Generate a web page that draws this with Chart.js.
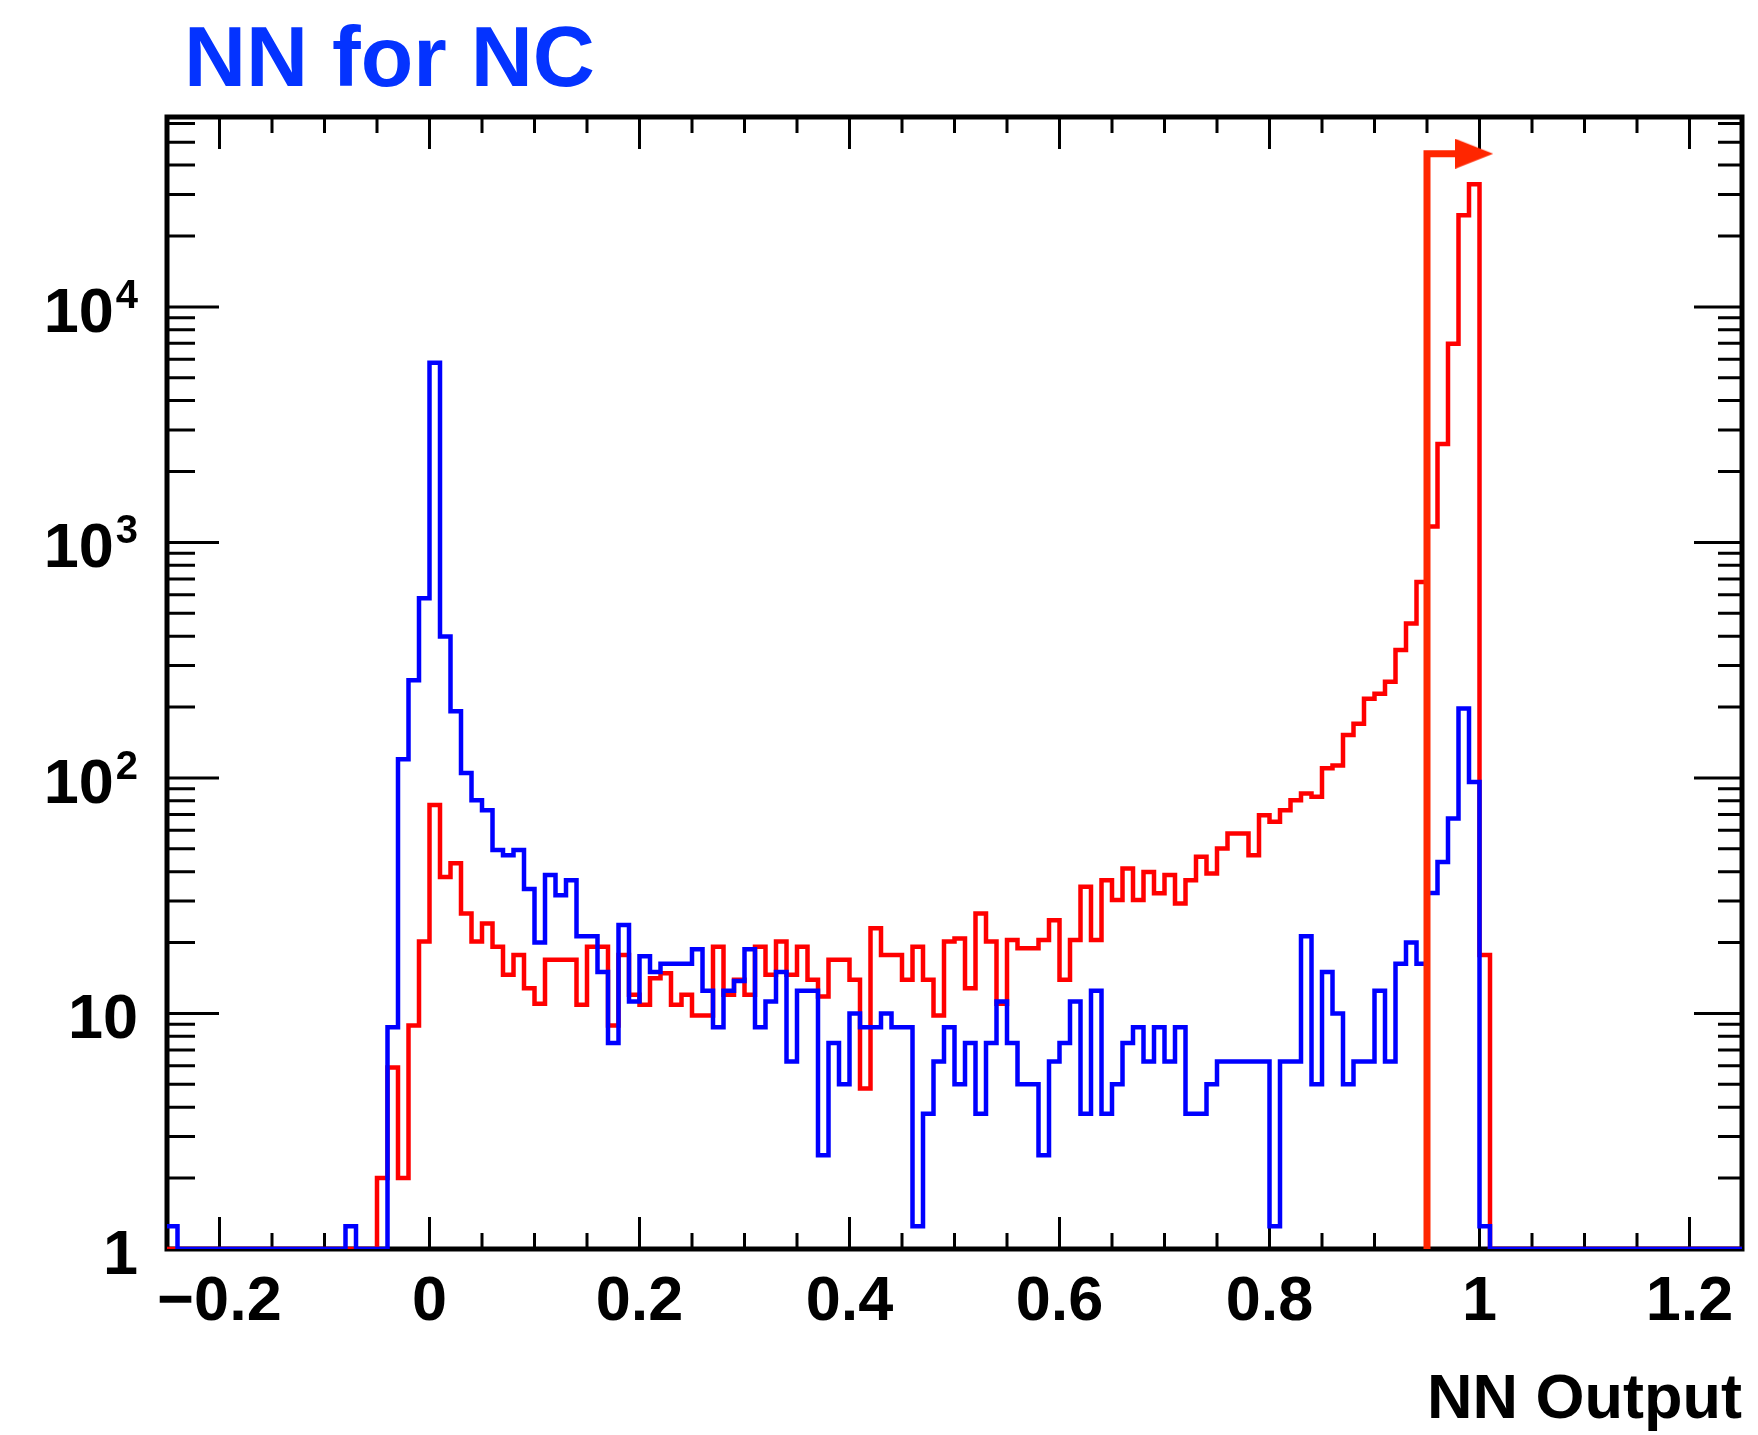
<!DOCTYPE html>
<html>
<head>
<meta charset="utf-8">
<script src="https://cdn.jsdelivr.net/npm/chart.js@4.4.1/dist/chart.umd.min.js"></script>
<style>
  html, body { margin: 0; padding: 0; background: #fff; }
  #wrap { width: 1758px; height: 1435px; }
</style>
</head>
<body>
<div id="wrap"><canvas id="chart"></canvas></div>
<script>
var binLow = -0.25;
var binWidth = 0.01;

// NC events (blue), entries per 0.01 bin starting at -0.25
var ncCounts = [
  1.25, 0, 0, 0, 0, 0, 0, 0, 0, 0,
  0, 0, 0, 0, 0, 0, 0, 1.25, 0, 0,
  0, 8.75, 120, 260, 580, 5790, 399, 192, 105, 80.5,
  73, 49.4, 47, 49.4, 33.75, 20, 38.75, 31.8, 36.8, 21.25,
  21.25, 15, 7.5, 23.75, 11.25, 17.5, 15, 16.25, 16.25, 16.25,
  18.75, 12.5, 8.75, 12.5, 13.75, 18.75, 8.75, 11.25, 15, 6.25,
  12.5, 12.5, 2.5, 7.5, 5, 10, 8.75, 8.75, 10, 8.75,
  8.75, 1.25, 3.75, 6.25, 8.75, 5, 7.5, 3.75, 7.5, 11.25,
  7.5, 5, 5, 2.5, 6.25, 7.5, 11.25, 3.75, 12.5, 3.75,
  5, 7.5, 8.75, 6.25, 8.75, 6.25, 8.75, 3.75, 3.75, 5,
  6.25, 6.25, 6.25, 6.25, 6.25, 1.25, 6.25, 6.25, 21.25, 5,
  15, 10, 5, 6.25, 6.25, 12.5, 6.25, 16.25, 20, 16.25,
  32.5, 44, 67.3, 197, 96, 1.25, 0, 0, 0, 0,
  0, 0, 0, 0, 0, 0, 0, 0, 0, 0,
  0, 0, 0, 0, 0, 0, 0, 0, 0, 0
];

// signal events (red), same binning
var sigCounts = [
  0, 0, 0, 0, 0, 0, 0, 0, 0, 0,
  0, 0, 0, 0, 0, 0, 0, 0, 0, 0,
  2.0, 5.9, 2.0, 8.9, 20.2, 76.7, 38.0, 43.4, 26.6, 20.2,
  24.1, 19.2, 14.6, 17.7, 12.8, 11.0, 16.9, 16.9, 16.9, 10.9,
  19.2, 19.2, 8.9, 17.7, 12.0, 10.9, 14.1, 14.8, 10.9, 12.0,
  9.8, 9.8, 19.2, 12.0, 13.9, 12.0, 19.2, 14.6, 20.2, 14.6,
  19.2, 13.9, 11.8, 16.9, 16.9, 13.9, 4.8, 23.0, 17.7, 17.7,
  13.9, 19.2, 13.9, 9.8, 20.2, 20.8, 12.8, 26.6, 20.2, 11.0,
  20.5, 18.9, 18.9, 20.5, 24.9, 13.9, 20.5, 34.5, 20.5, 36.8,
  30.3, 41.3, 30.3, 39.9, 32.4, 38.7, 29.3, 36.8, 46.3, 39.3,
  50.2, 58.1, 58.1, 47.0, 69.5, 65.1, 73.0, 80.5, 85.9, 83.2,
  110, 113, 152, 170, 217, 228, 256, 349, 453, 679,
  1168, 2618, 6980, 24500, 33200, 17.7, 0, 0, 0, 0,
  0, 0, 0, 0, 0, 0, 0, 0, 0, 0,
  0, 0, 0, 0, 0, 0, 0, 0, 0, 0
];

var xMajorTicks = [-0.2, 0, 0.2, 0.4, 0.6, 0.8, 1, 1.2];
var xTickText = ["\u22120.2", "0", "0.2", "0.4", "0.6", "0.8", "1", "1.2"];
var yMajorTicks = [1, 10, 100, 1000, 10000];
var yTickBase = ["1", "10", "10", "10", "10"];
var yTickExp = ["", "", "2", "3", "4"];

// selection cut and the arrow pointing to the kept side
var cutValue = 0.95;
var cutArrowY = 44700;
var cutArrowHead = 0.995;

var xMin = -0.25, xMax = 1.25;
var yMin = 1, yMax = 64000;

var font = "'Liberation Sans', Arial, Helvetica, sans-serif";
var cutColor = "#ff2600";

// one point per bin edge; empty bins sit on the bottom of the log axis
function stepPoints(counts) {
  var pts = counts.map(function (c, i) {
    return { x: binLow + i * binWidth, y: Math.max(c, yMin) };
  });
  pts.push({ x: binLow + counts.length * binWidth, y: Math.max(counts[counts.length - 1], yMin) });
  return pts;
}

function majorIndex(list, v) {
  for (var i = 0; i < list.length; i++) {
    if (Math.abs(list[i] - v) < 1e-9 * Math.max(1, Math.abs(v))) return i;
  }
  return -1;
}

// right-pointing arrowhead used as the point style at the end of the cut arrow
function arrowHead(w, h, color) {
  var c = document.createElement("canvas");
  c.width = w;
  c.height = h;
  var g = c.getContext("2d");
  g.fillStyle = color;
  g.beginPath();
  g.moveTo(0, 0);
  g.lineTo(w, h / 2);
  g.lineTo(0, h);
  g.closePath();
  g.fill();
  return c;
}

// frame with inward ticks on all four sides, power-of-ten labels, title
var frameTicks = {
  id: "frameTicks",
  beforeDatasetsDraw: function (chart) {
    var ctx = chart.ctx;
    var a = chart.chartArea;
    var xs = chart.scales.x, ys = chart.scales.y;
    ctx.save();
    ctx.strokeStyle = "#000";
    ctx.lineWidth = 3;
    ctx.beginPath();
    xs.ticks.forEach(function (t) {
      var px = xs.getPixelForValue(t.value);
      var len = majorIndex(xMajorTicks, t.value) >= 0 ? 32 : 16;
      ctx.moveTo(px, a.bottom);
      ctx.lineTo(px, a.bottom - len);
      ctx.moveTo(px, a.top);
      ctx.lineTo(px, a.top + len);
    });
    ys.ticks.forEach(function (t) {
      var py = ys.getPixelForValue(t.value);
      var major = majorIndex(yMajorTicks, t.value) >= 0;
      ctx.moveTo(a.left, py);
      ctx.lineTo(a.left + (major ? 52 : 28), py);
      ctx.moveTo(a.right, py);
      ctx.lineTo(a.right - (major ? 48 : 24), py);
    });
    ctx.stroke();
    ctx.lineWidth = 5;
    ctx.strokeRect(a.left, a.top, a.right - a.left, a.bottom - a.top);

    // y labels: base number with a raised exponent, right-aligned left of the frame
    ctx.fillStyle = "#000";
    ctx.textBaseline = "alphabetic";
    ctx.textAlign = "left";
    var baseFont = "bold 63px " + font;
    var expFont = "bold 40px " + font;
    var rightEdge = a.left - 29;
    yMajorTicks.forEach(function (v, i) {
      var py = ys.getPixelForValue(v);
      ctx.font = expFont;
      var we = yTickExp[i] ? ctx.measureText(yTickExp[i]).width + 2 : 0;
      ctx.font = baseFont;
      var wb = ctx.measureText(yTickBase[i]).width;
      var x0 = rightEdge - we - wb;
      ctx.fillText(yTickBase[i], x0, py + 25);
      if (yTickExp[i]) {
        ctx.font = expFont;
        ctx.fillText(yTickExp[i], x0 + wb + 2, py + 1);
      }
    });
    ctx.restore();
  },
  afterDraw: function (chart) {
    var ctx = chart.ctx;
    ctx.save();
    ctx.fillStyle = "#0433ff";
    ctx.font = "bold 86px " + font;
    ctx.textAlign = "left";
    ctx.textBaseline = "alphabetic";
    ctx.fillText("NN for NC", 184, 86);
    ctx.restore();
  }
};

new Chart(document.getElementById("chart"), {
  type: "line",
  data: {
    datasets: [
      {
        label: "cut",
        data: [
          { x: cutValue, y: yMin },
          { x: cutValue, y: cutArrowY },
          { x: cutArrowHead, y: cutArrowY }
        ],
        borderColor: cutColor,
        backgroundColor: cutColor,
        borderWidth: 7,
        borderJoinStyle: "miter",
        pointRadius: [0, 0, 18],
        pointStyle: [false, false, arrowHead(38, 30, cutColor)],
        order: 0
      },
      {
        label: "NC",
        data: stepPoints(ncCounts),
        stepped: "before",
        borderColor: "#0000ff",
        borderWidth: 4.5,
        pointRadius: 0,
        fill: false,
        order: 1
      },
      {
        label: "signal",
        data: stepPoints(sigCounts),
        stepped: "before",
        borderColor: "#ff0000",
        borderWidth: 4.5,
        pointRadius: 0,
        fill: false,
        order: 2
      }
    ]
  },
  options: {
    responsive: true,
    maintainAspectRatio: false,
    animation: false,
    devicePixelRatio: 1,
    layout: { autoPadding: false, padding: { left: 0, right: 15, top: 117, bottom: 0 } },
    plugins: {
      legend: { display: false },
      tooltip: { enabled: false },
      title: { display: false }
    },
    scales: {
      x: {
        type: "linear",
        min: xMin,
        max: xMax,
        grid: { display: false, drawTicks: false },
        border: { display: false },
        afterBuildTicks: function (scale) {
          var ticks = [];
          for (var k = -5; k <= 25; k++) ticks.push({ value: k * 0.05 });
          scale.ticks = ticks;
        },
        afterFit: function (scale) { scale.height = 186; },
        ticks: {
          autoSkip: false,
          maxRotation: 0,
          minRotation: 0,
          padding: 16,
          color: "#000",
          font: { family: font, size: 63, weight: "bold" },
          callback: function (v) {
            var i = majorIndex(xMajorTicks, v);
            return i < 0 ? "" : xTickText[i];
          }
        },
        title: {
          display: true,
          text: "NN Output",
          align: "end",
          color: "#000",
          font: { family: font, size: 63, weight: "bold", lineHeight: 1 },
          padding: { top: 0, bottom: 3 }
        }
      },
      y: {
        type: "logarithmic",
        min: yMin,
        max: yMax,
        grid: { display: false, drawTicks: false },
        border: { display: false },
        afterBuildTicks: function (scale) {
          var ticks = [];
          for (var e = 0; e <= 4; e++) {
            for (var m = 1; m <= 9; m++) {
              var v = m * Math.pow(10, e);
              if (v <= yMax) ticks.push({ value: v });
            }
          }
          scale.ticks = ticks;
        },
        afterFit: function (scale) { scale.width = 167; },
        ticks: { display: false }
      }
    }
  },
  plugins: [frameTicks]
});
</script>
</body>
</html>
